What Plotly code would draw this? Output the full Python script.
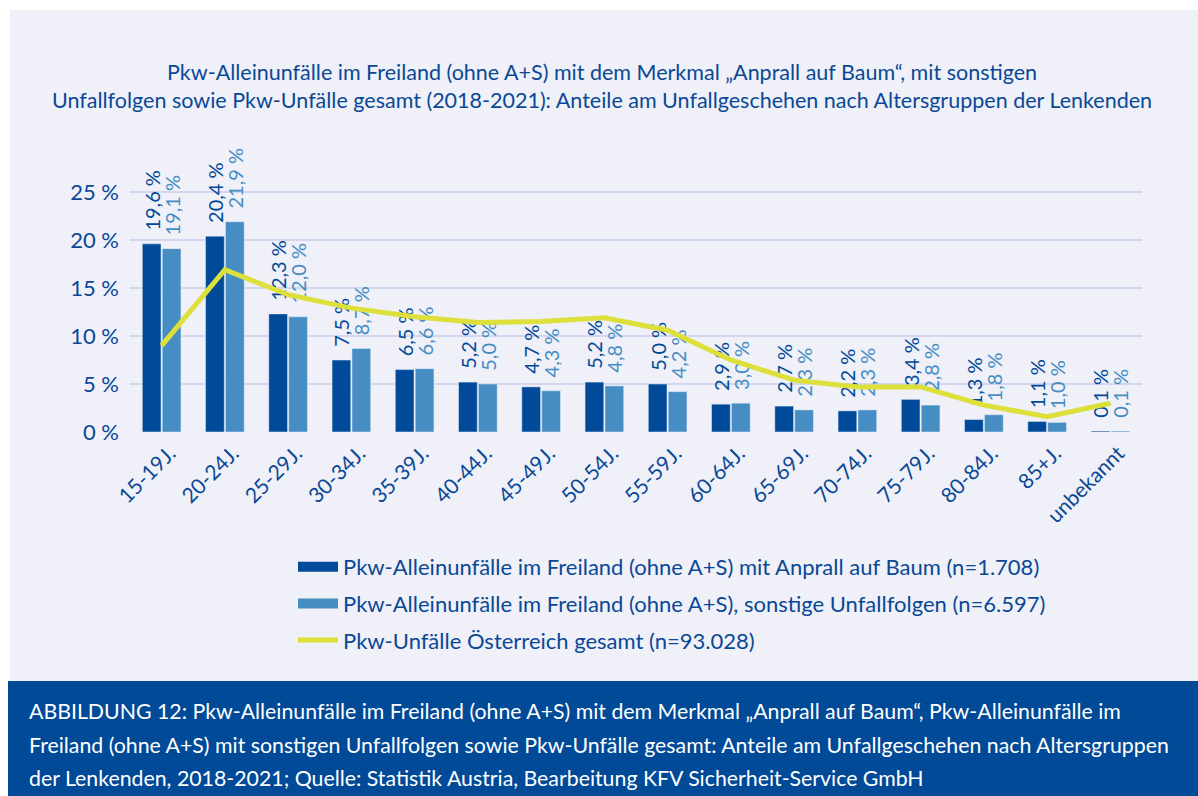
import plotly.graph_objects as go

categories = ["15-19J.", "20-24J.", "25-29J.", "30-34J.", "35-39J.", "40-44J.", "45-49J.",
              "50-54J.", "55-59J.", "60-64J.", "65-69J.", "70-74J.", "75-79J.", "80-84J.",
              "85+J.", "unbekannt"]
baum = [19.6, 20.4, 12.3, 7.5, 6.5, 5.2, 4.7, 5.2, 5.0, 2.9, 2.7, 2.2, 3.4, 1.3, 1.1, 0.1]
sonstige = [19.1, 21.9, 12.0, 8.7, 6.6, 5.0, 4.3, 4.8, 4.2, 3.0, 2.3, 2.3, 2.8, 1.8, 1.0, 0.1]
gesamt = [9.0, 16.9, 14.3, 12.9, 12.0, 11.4, 11.5, 11.9, 10.6, 7.5, 5.4, 4.7, 4.7, 2.8, 1.6, 3.0]
yticks = [0, 5, 10, 15, 20, 25]
yticktext = ["0 %", "5 %", "10 %", "15 %", "20 %", "25 %"]

name_baum = "Pkw-Alleinunfälle im Freiland (ohne A+S) mit Anprall auf Baum (n=1.708)"
name_sonst = "Pkw-Alleinunfälle im Freiland (ohne A+S), sonstige Unfallfolgen (n=6.597)"
name_ges = "Pkw-Unfälle Österreich gesamt (n=93.028)"

DARK = "#004A99"
LIGHT = "#468DC4"
YEL = "#DDE03A"
TXT = "#0A4896"
FONT = "Lato"

W, H = 1198, 796
L, R, T, B = 130, 56, 150, 364
pw = W - L - R
ph = H - T - B

def px(x):
    return (x - L) / pw

def py(y):
    return (H - B - y) / ph

def fmt(v):
    return "\u00a0\u00a0" + f"{v:.1f}".replace(".", ",") + " %"

fig = go.Figure()
fig.add_trace(go.Bar(x=categories, y=baum, name=name_baum, marker_color=DARK,
                     text=[fmt(v) for v in baum], textposition="outside", textangle=-90,
                     constraintext="none",
                     textfont=dict(color=DARK, size=20, family=FONT), cliponaxis=False,
                     showlegend=False))
fig.add_trace(go.Bar(x=categories, y=sonstige, name=name_sonst, marker_color=LIGHT,
                     text=[fmt(v) for v in sonstige], textposition="outside", textangle=-90,
                     constraintext="none",
                     textfont=dict(color=LIGHT, size=20, family=FONT), cliponaxis=False,
                     showlegend=False))
fig.add_trace(go.Scatter(x=categories, y=gesamt, name=name_ges, mode="lines",
                         line=dict(color=YEL, width=5), showlegend=False, cliponaxis=False))
# legend entries
fig.add_trace(go.Scatter(x=[None], y=[None], mode="lines", name=name_baum,
                         line=dict(color=DARK, width=11), legendgroup="a"))
fig.add_trace(go.Scatter(x=[None], y=[None], mode="lines", name=name_sonst,
                         line=dict(color=LIGHT, width=11), legendgroup="b"))
fig.add_trace(go.Scatter(x=[None], y=[None], mode="lines", name=name_ges,
                         line=dict(color=YEL, width=5), legendgroup="c"))

shapes = [
    dict(type="rect", xref="paper", yref="paper", x0=px(10), x1=px(W), y0=py(681), y1=py(10),
         fillcolor="#EFF0F8", line_width=0, layer="below"),
    dict(type="rect", xref="paper", yref="paper", x0=px(8), x1=px(W), y0=py(H), y1=py(681),
         fillcolor="#004A98", line_width=0, layer="below"),
]

annotations = [
    dict(xref="paper", yref="paper", x=px(602), y=py(86), xanchor="center", yanchor="middle",
         showarrow=False, align="center",
         text="Pkw-Alleinunfälle im Freiland (ohne A+S) mit dem Merkmal „Anprall auf Baum“, mit sonstigen<br>"
              "Unfallfolgen sowie Pkw-Unfälle gesamt (2018-2021): Anteile am Unfallgeschehen nach Altersgruppen der Lenkenden",
         font=dict(color=TXT, size=21.5, family=FONT)),
]
caption = [
    "ABBILDUNG 12: Pkw-Alleinunfälle im Freiland (ohne A+S) mit dem Merkmal „Anprall auf Baum“, Pkw-Alleinunfälle im",
    "Freiland (ohne A+S) mit sonstigen Unfallfolgen sowie Pkw-Unfälle gesamt: Anteile am Unfallgeschehen nach Altersgruppen",
    "der Lenkenden, 2018-2021; Quelle: Statistik Austria, Bearbeitung KFV Sicherheit-Service GmbH",
]
for i, line in enumerate(caption):
    annotations.append(dict(xref="paper", yref="paper", x=px(27), y=py(711 + 33.5 * i),
                            xanchor="left", yanchor="middle", showarrow=False, text=line,
                            font=dict(color="white", size=21.3, family=FONT)))

fig.update_layout(
    width=W, height=H,
    margin=dict(l=L, r=R, t=T, b=B, pad=0),
    paper_bgcolor="white", plot_bgcolor="rgba(0,0,0,0)",
    barmode="group", bargap=0.37, bargroupgap=0.06,
    font=dict(family=FONT, color=TXT),
    shapes=shapes, annotations=annotations,
    showlegend=True,
    legend=dict(x=px(293), y=py(546), xanchor="left", yanchor="top",
                bgcolor="rgba(0,0,0,0)", font=dict(size=22, color=TXT, family=FONT),
                traceorder="grouped", tracegroupgap=5, itemwidth=40),
    xaxis=dict(range=[-0.5, 15.5], tickangle=-45, tickfont=dict(size=21, color=TXT, family=FONT),
               showgrid=False, zeroline=False, showline=False, ticks="",
               ticklabelshift=8, ticklabelstandoff=4),
    yaxis=dict(range=[0, ph / 9.6], tickvals=yticks, ticktext=yticktext,
               tickfont=dict(size=22, color=TXT, family=FONT),
               showgrid=True, gridcolor="#D3D6EE", gridwidth=1.5, zeroline=False,
               ticklabelstandoff=10),
)

fig.write_html("out.html", config={"displayModeBar": False},
               post_script="document.body.style.margin='0';")
